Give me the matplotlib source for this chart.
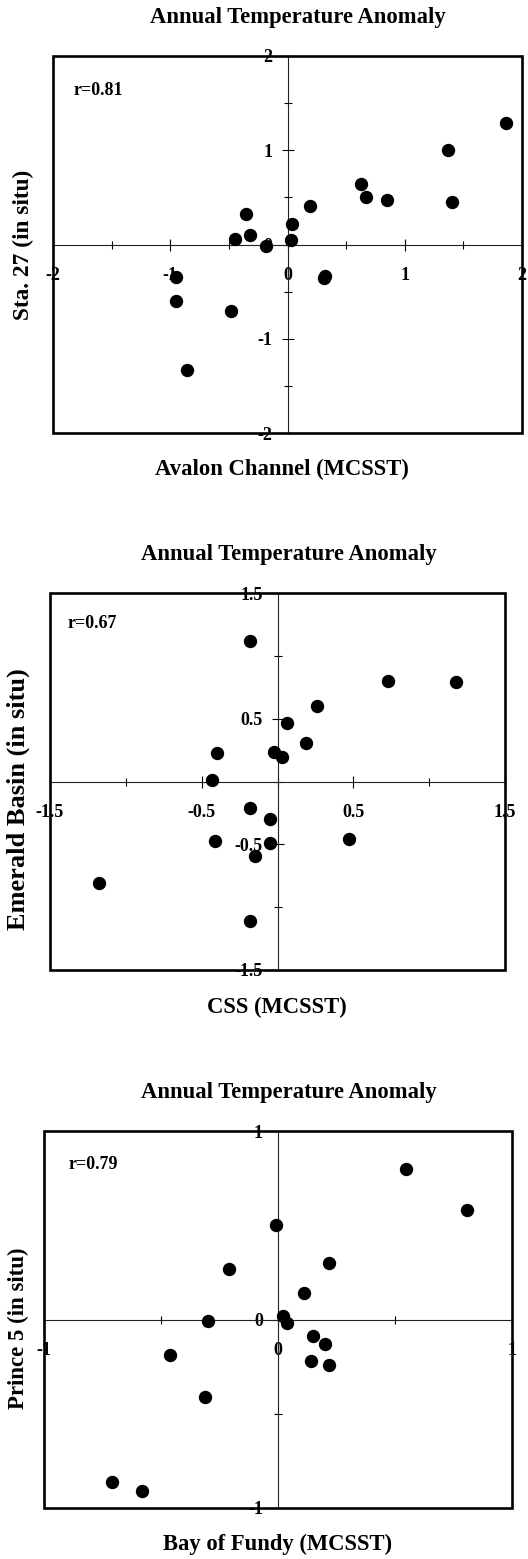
import matplotlib
matplotlib.use('Agg')
import matplotlib.pyplot as plt
from matplotlib.patches import Rectangle

plt.rcParams['font.family'] = ['Liberation Serif', 'DejaVu Serif']
plt.rcParams['font.weight'] = 'bold'

W, H = 528, 1559

# panel 1: Avalon Channel vs Sta. 27
avalon_x = [1.86, 1.37, 1.40, 0.63, 0.67, 0.85, 0.19, 0.04, 0.03, -0.18,
            -0.35, -0.32, -0.45, 0.32, 0.31, -0.95, -0.95, -0.48, -0.86]
sta27_y = [1.29, 1.00, 0.45, 0.64, 0.50, 0.47, 0.41, 0.22, 0.05, -0.02,
           0.32, 0.10, 0.06, -0.33, -0.36, -0.35, -0.60, -0.71, -1.33]

# panel 2: CSS vs Emerald Basin
css_x = [-0.18, 0.73, 1.18, 0.26, 0.06, 0.19, -0.40, -0.02, 0.03, -0.43,
         -0.18, -0.05, -0.41, -0.05, 0.47, -0.15, -1.18, -0.18]
emerald_y = [1.12, 0.80, 0.79, 0.60, 0.47, 0.31, 0.23, 0.24, 0.20, 0.01,
             -0.21, -0.30, -0.47, -0.49, -0.46, -0.59, -0.81, -1.11]

# panel 3: Bay of Fundy vs Prince 5
fundy_x = [0.55, 0.81, -0.01, 0.22, -0.21, 0.11, 0.02, 0.04, -0.30, 0.15,
           0.20, -0.46, 0.14, 0.22, -0.31, -0.71, -0.58]
prince5_y = [0.80, 0.58, 0.50, 0.30, 0.27, 0.14, 0.02, -0.02, -0.01, -0.09,
             -0.13, -0.19, -0.22, -0.24, -0.41, -0.86, -0.91]

r_texts = ['r=0.81', 'r=0.67', 'r=0.79']
titles = ['Annual Temperature Anomaly'] * 3
x_labels = ['Avalon Channel (MCSST)', 'CSS (MCSST)', 'Bay of Fundy (MCSST)']
y_labels = ['Sta. 27 (in situ)', 'Emerald Basin (in situ)', 'Prince 5 (in situ)']

major_1 = [-2, -1, 0, 1, 2]
minor_1 = [-1.5, -0.5, 0.5, 1.5]
labels_1 = ['-2', '-1', '0', '1', '2']
major_2 = [-1.5, -0.5, 0.5, 1.5]
minor_2 = [-1, 0, 1]
labels_2 = ['-1.5', '-0.5', '0.5', '1.5']
major_3 = [-1, 0, 1]
minor_3 = [-0.5, 0.5]
labels_3 = ['-1', '0', '1']


def fx(x):
    return x / W


def fy(y):
    return 1 - y / H


fig = plt.figure(figsize=(W / 100, H / 100), dpi=100)


def make_panel(box, lim, major, minor, labels, xs, ys, title, title_pos,
               xlabel, xlabel_pos, ylabel, ylabel_pos, ylabel_size, rtext, r_pos):
    left, right, top, bottom = box
    ax = fig.add_axes([fx(left), fy(bottom), (right - left) / W, (bottom - top) / H])
    ax.set_xlim(-lim, lim)
    ax.set_ylim(-lim, lim)
    for s in ['top', 'right']:
        ax.spines[s].set_visible(False)
    ax.spines['left'].set_position(('data', 0))
    ax.spines['bottom'].set_position(('data', 0))
    ax.spines['left'].set_linewidth(0.8)
    ax.spines['bottom'].set_linewidth(0.8)
    ax.spines['left'].set_color('#222222')
    ax.spines['bottom'].set_color('#222222')
    ax.set_xticks(major)
    ax.set_xticklabels(labels)
    ax.set_yticks(major)
    ax.set_yticklabels(labels)
    ax.set_xticks(minor, minor=True)
    ax.set_yticks(minor, minor=True)
    ax.tick_params(which='major', direction='inout', length=8.6, width=0.8, labelsize=13)
    ax.tick_params(which='minor', direction='inout', length=5.8, width=0.8)
    ax.tick_params(axis='x', which='major', pad=12)
    ax.tick_params(axis='y', which='major', pad=6.5)
    ax.add_patch(Rectangle((0, 0), 1, 1, transform=ax.transAxes, fill=False,
                           lw=1.9, ec='black', clip_on=False, zorder=4))
    ax.scatter(xs, ys, s=74, color='black', zorder=5, clip_on=False)

    fig.text(fx(title_pos[0]), fy(title_pos[1]), title, ha='center', va='baseline', fontsize=16.3)
    fig.text(fx(xlabel_pos[0]), fy(xlabel_pos[1]), xlabel, ha='center', va='baseline', fontsize=16.3)
    fig.text(fx(ylabel_pos[0]), fy(ylabel_pos[1]), ylabel, ha='center', va='center',
             rotation=90, fontsize=ylabel_size)
    fig.text(fx(r_pos[0]), fy(r_pos[1]), rtext, ha='left', va='baseline', fontsize=13)
    return ax


make_panel((53, 522, 56, 433), 2, major_1, minor_1, labels_1, avalon_x, sta27_y,
           titles[0], (298, 23), x_labels[0], (281.5, 475), y_labels[0], (23, 244.5), 16.8,
           r_texts[0], (74, 95))
make_panel((50, 505, 593.3, 970), 1.5, major_2, minor_2, labels_2, css_x, emerald_y,
           titles[1], (289, 560), x_labels[1], (277, 1012.7), y_labels[1], (18, 799), 19,
           r_texts[1], (68, 628))
make_panel((44, 511.7, 1131, 1508), 1, major_3, minor_3, labels_3, fundy_x, prince5_y,
           titles[2], (289, 1098), x_labels[2], (277.5, 1550), y_labels[2], (18, 1328), 16.5,
           r_texts[2], (69, 1169))

fig.savefig('out.png', dpi=100)
